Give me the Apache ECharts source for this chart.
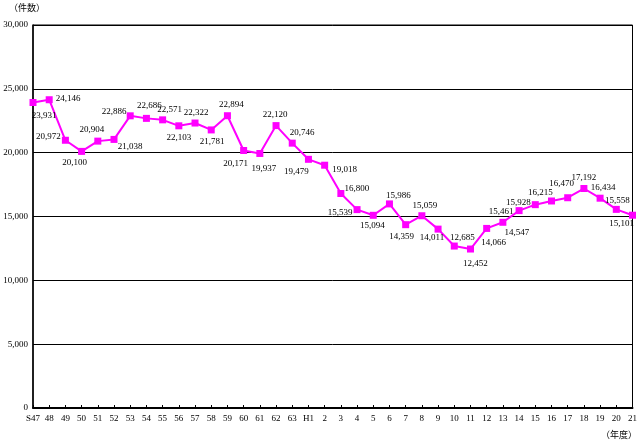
<!DOCTYPE html>
<html><head><meta charset="utf-8">
<script src="https://cdn.jsdelivr.net/npm/echarts@6/dist/echarts.min.js"></script>
<style>html,body{margin:0;padding:0;background:#fff}#c{width:640px;height:444px}</style>
</head><body><div id="c"></div>
<script>
var categories = ['S47','48','49','50','51','52','53','54','55','56','57','58','59','60','61','62','63','H1','2','3','4','5','6','7','8','9','10','11','12','13','14','15','16','17','18','19','20','21'];
var counts = [23931,24146,20972,20100,20904,21038,22886,22686,22571,22103,22322,21781,22894,20171,19937,22120,20746,19479,19018,16800,15539,15094,15986,14359,15059,14011,12685,12452,14066,14547,15461,15928,16215,16470,17192,16434,15558,15101];
var yTicks = [0,5000,10000,15000,20000,25000,30000];
// label offsets (styling only)
var labelOffsets = [[11,13],[19,-1],[-17,-4],[-7,11],[-6,-11],[16,7],[-16,-4],[3,-13],[7,-10],[0,12],[1,-10],[1,12],[4,-11],[-8,13],[4,15],[-1,-11],[10,-11],[-12,12],[20,4],[16,-5],[-17,3],[-1,10],[9,-8],[-4,12],[3,-10],[-6,9],[8,-8],[5,15],[7,14],[14,10],[-18,1],[-17,-2],[-11,-8],[-6,-14],[0,-11],[3,-11],[1,-9],[-11,8]];

function fmt(v){ return String(v).replace(/\B(?=(\d{3})+(?!\d))/g, ','); }
var numFont = 'Liberation Serif';
var chart = echarts.init(document.getElementById('c'));
chart.setOption({
  animation: false,
  backgroundColor: '#fff',
  grid: {left: 33, right: 7, top: 25, bottom: 36, show: true, borderColor: '#000', borderWidth: 1, backgroundColor: 'transparent'},
  graphic: [
    {type: 'text', left: 9, top: 3, style: {text: '（件数）', font: '9px "Noto Sans CJK JP"', fill: '#000'}},
    {type: 'text', right: 3, top: 430, style: {text: '（年度）', font: '9px "Noto Sans CJK JP"', fill: '#000'}}
  ],
  xAxis: {
    type: 'category', data: categories, boundaryGap: false,
    axisLine: {lineStyle: {color: '#000', width: 2}},
    axisTick: {inside: true, length: 3, lineStyle: {color: '#000'}},
    axisLabel: {interval: 0, fontSize: 9, fontFamily: numFont, color: '#000', margin: 6}
  },
  yAxis: {
    type: 'value', min: yTicks[0], max: yTicks[yTicks.length-1], interval: yTicks[1]-yTicks[0],
    axisLine: {show: true, lineStyle: {color: '#000', width: 1.5}},
    axisTick: {show: false},
    splitLine: {lineStyle: {color: '#000', width: 1}},
    axisLabel: {fontSize: 9, fontFamily: numFont, color: '#000', margin: 5, formatter: fmt}
  },
  series: [{
    type: 'line',
    data: counts.map(function(v, i){ return {value: v, label: {offset: labelOffsets[i]}}; }),
    symbol: 'rect', symbolSize: 7,
    lineStyle: {color: '#ff00ff', width: 2},
    itemStyle: {color: '#ff00ff'},
    label: {show: true, position: 'inside', fontSize: 9, fontFamily: numFont, color: '#000',
      formatter: function(p){ return fmt(p.value); }}
  }]
});
</script></body></html>
